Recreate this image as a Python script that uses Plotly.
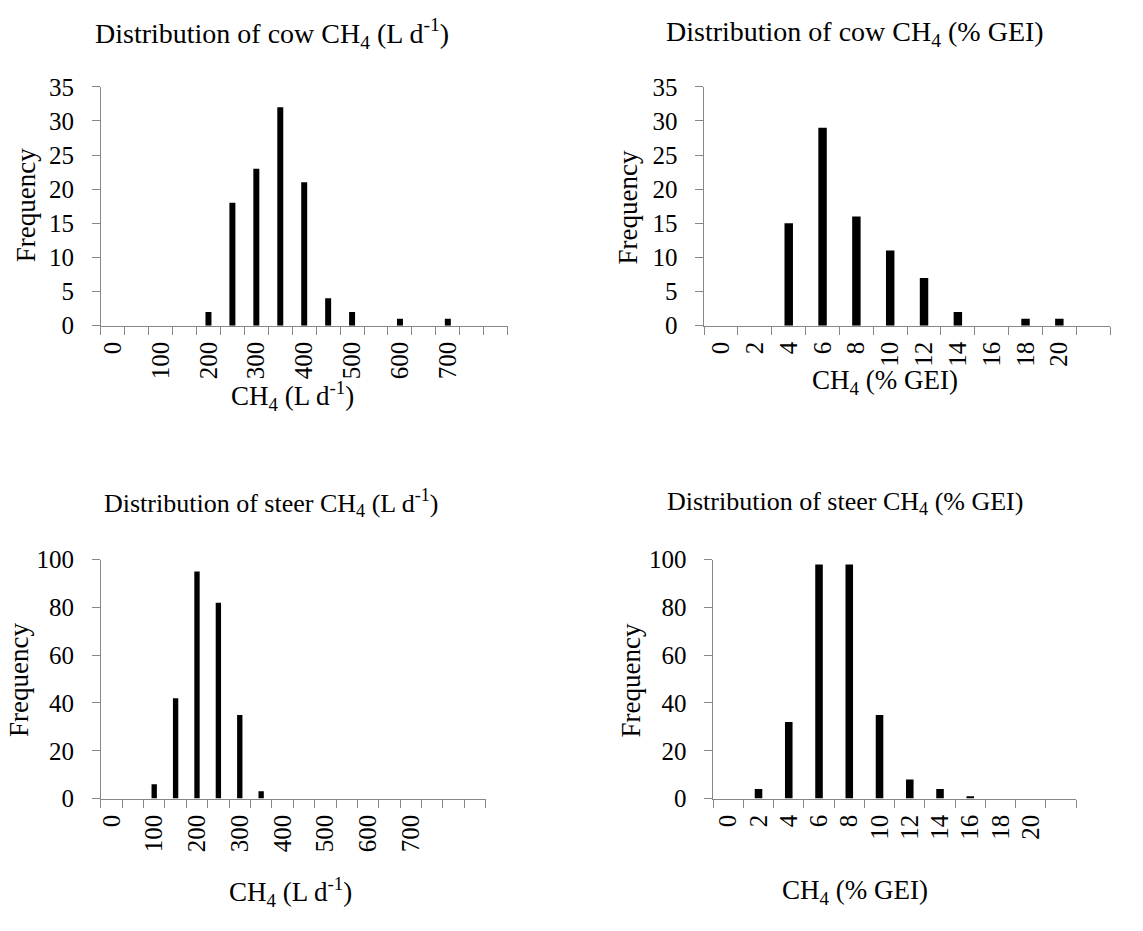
import plotly.graph_objects as go

# Methane emission histograms: bin centres, frequency per bin, labelled ticks
cow_ld_bins = list(range(0, 801, 50))
cow_ld_freq = [0, 0, 0, 0, 2, 18, 23, 32, 21, 4, 2, 0, 1, 0, 1, 0, 0]
cow_ld_ticks = [0, 100, 200, 300, 400, 500, 600, 700]

cow_gei_bins = list(range(0, 23, 2))
cow_gei_freq = [0, 0, 15, 29, 16, 11, 7, 2, 0, 1, 1, 0]
cow_gei_ticks = [0, 2, 4, 6, 8, 10, 12, 14, 16, 18, 20]

steer_ld_bins = list(range(0, 851, 50))
steer_ld_freq = [0, 0, 6, 42, 95, 82, 35, 3, 0, 0, 0, 0, 0, 0, 0, 0, 0, 0]
steer_ld_ticks = [0, 100, 200, 300, 400, 500, 600, 700]

steer_gei_bins = list(range(0, 23, 2))
steer_gei_freq = [0, 4, 32, 98, 98, 35, 8, 4, 1, 0, 0, 0]
steer_gei_ticks = [0, 2, 4, 6, 8, 10, 12, 14, 16, 18, 20]

W, H = 1143, 931
FONT = "Liberation Serif, Times New Roman, serif"
AXIS_GREY = "#878787"
TICK_SIZE = 25


def px_x(p):
    return p / W


def px_y(p):
    return 1 - p / H


panels = [
    # bins, freq, tick labels, x-domain px, y-domain px, y max, y step
    (cow_ld_bins, cow_ld_freq, cow_ld_ticks, (98, 506), (76, 322), 35, 5),
    (cow_gei_bins, cow_gei_freq, cow_gei_ticks, (703, 1110), (76, 322), 35, 5),
    (steer_ld_bins, steer_ld_freq, steer_ld_ticks, (98, 484), (563, 809), 100, 20),
    (steer_gei_bins, steer_gei_freq, steer_gei_ticks, (712, 1076), (563, 809), 100, 20),
]

fig = go.Figure()
layout = {}
for i, (bins, freq, ticks, xd, yd, ymax, ystep) in enumerate(panels, start=1):
    sfx = "" if i == 1 else str(i)
    step = bins[1] - bins[0]
    # tick marks sit on the bin boundaries, labels on the bin centres
    edges = [b - step / 2 for b in bins] + [bins[-1] + step / 2]
    fig.add_trace(go.Bar(
        x=bins, y=freq, xaxis="x" + sfx, yaxis="y" + sfx,
        marker=dict(color="black", line=dict(width=0)),
        showlegend=False,
    ))
    layout["xaxis" + sfx] = dict(
        domain=[px_x(xd[0]), px_x(xd[1])], anchor="y" + sfx,
        range=[edges[0], edges[-1]],
        tickmode="array", tickvals=ticks, ticktext=[str(t) for t in ticks],
        ticks="outside", ticklen=5, tickcolor="rgba(0,0,0,0)", tickangle=-90,
        minor=dict(tickmode="array", tickvals=edges, ticks="outside",
                   ticklen=8, tickwidth=1.3, tickcolor=AXIS_GREY, showgrid=False),
        showline=True, linecolor=AXIS_GREY, linewidth=1.3,
        showgrid=False, zeroline=False,
        tickfont=dict(family=FONT, size=TICK_SIZE, color="black"),
    )
    layout["yaxis" + sfx] = dict(
        domain=[px_y(yd[1]), px_y(yd[0])], anchor="x" + sfx,
        range=[0, ymax], tickmode="linear", tick0=0, dtick=ystep,
        ticksuffix="\u2002",
        ticks="outside", ticklen=8, tickwidth=1.3, tickcolor=AXIS_GREY,
        showline=True, linecolor=AXIS_GREY, linewidth=1.3,
        showgrid=False, zeroline=False,
        tickfont=dict(family=FONT, size=TICK_SIZE, color="black"),
    )

texts = [
    # text, x px, y px, size, angle
    ("Distribution of cow CH<sub>4</sub> (L d<sup>-1</sup>)", 270, 21, 28, 0),
    ("Distribution of cow CH<sub>4</sub> (% GEI)", 854, 21, 28, 0),
    ("Distribution of steer CH<sub>4</sub> (L d<sup>-1</sup>)", 269, 505, 26, 0),
    ("Distribution of steer CH<sub>4</sub> (% GEI)", 844, 505, 26, 0),
    ("CH<sub>4</sub> (L d<sup>-1</sup>)", 290, 394, 27, 0),
    ("CH<sub>4</sub> (% GEI)", 884, 380, 27, 0),
    ("CH<sub>4</sub> (L d<sup>-1</sup>)", 288, 905, 27, 0),
    ("CH<sub>4</sub> (% GEI)", 854, 905, 27, 0),
    ("Frequency", 23, 198, 27, -90),
    ("Frequency", 627, 200, 27, -90),
    ("Frequency", 16, 687, 27, -90),
    ("Frequency", 630, 687, 27, -90),
]
annotations = [
    dict(text=t, x=px_x(x), y=px_y(y), xref="paper", yref="paper",
         xanchor="center", yanchor="middle", showarrow=False, textangle=a,
         font=dict(family=FONT, size=s, color="black"))
    for t, x, y, s, a in texts
]

fig.update_layout(
    width=W, height=H, margin=dict(l=0, r=0, t=0, b=0),
    paper_bgcolor="white", plot_bgcolor="white",
    bargap=0.75, annotations=annotations, **layout,
)

fig.write_html("out.html")
